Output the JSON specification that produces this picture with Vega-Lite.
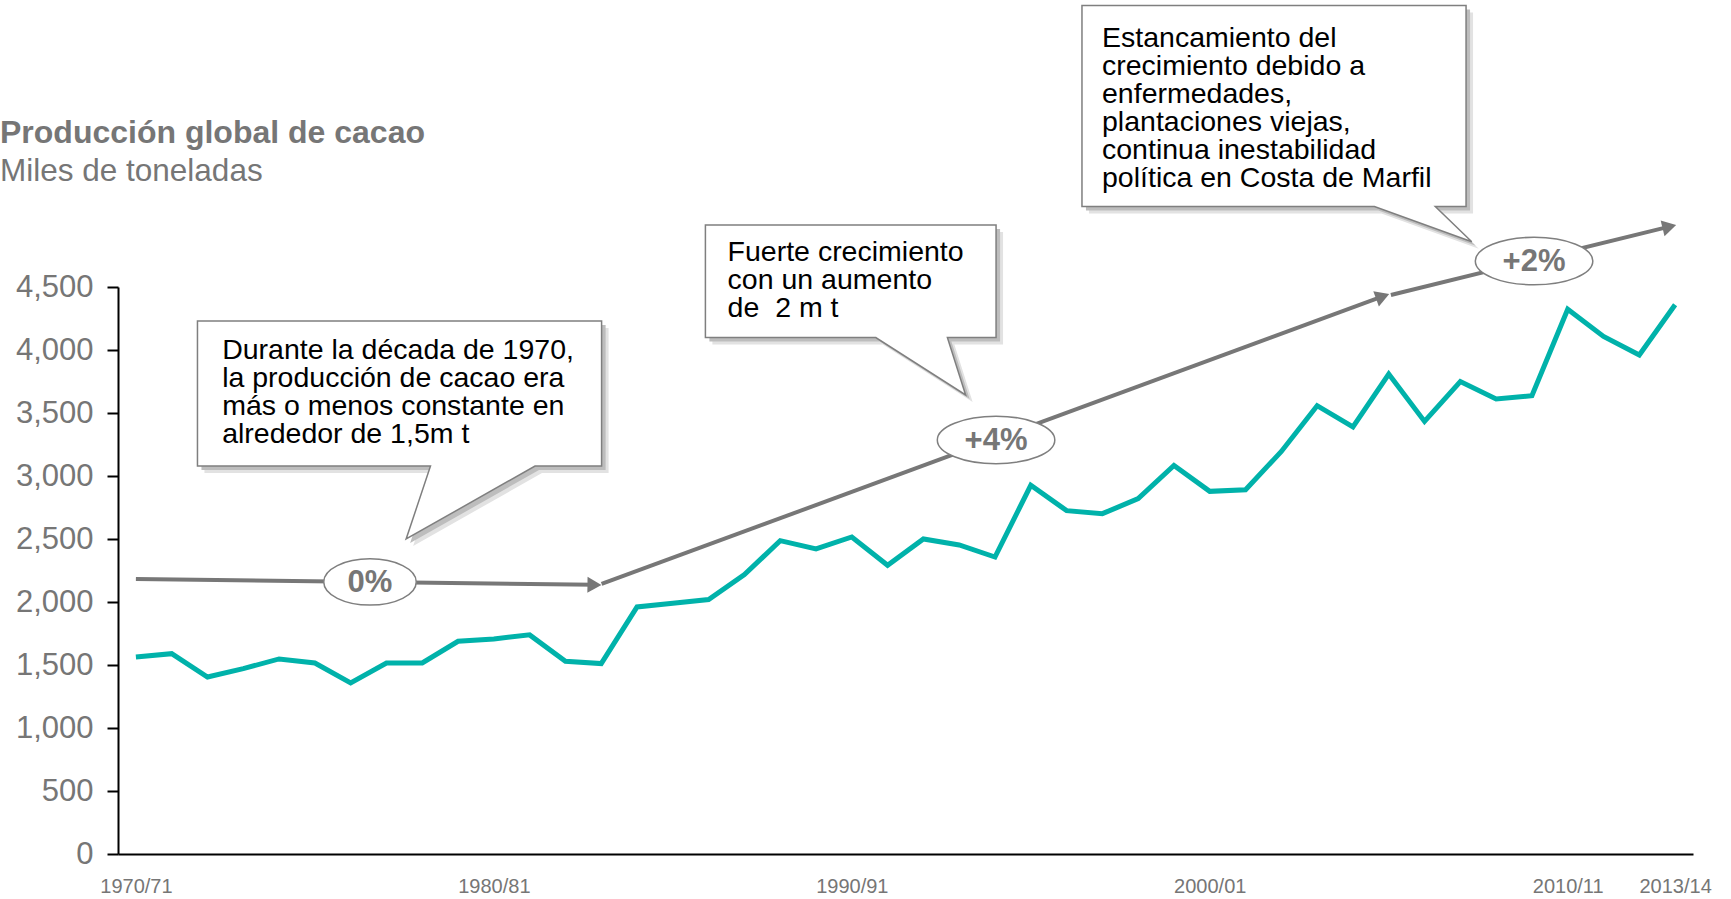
{
  "$schema": "https://vega.github.io/schema/vega-lite/v6.json",
  "width": 1575,
  "height": 567,
  "autosize": {"type": "none"},
  "padding": {"left": 118, "top": 287, "right": 38, "bottom": 45},
  "background": "white",
  "config": {"view": {"stroke": null}, "font": "Liberation Sans, Arial, sans-serif"},
  "title": {
    "text": "Producción global de cacao",
    "subtitle": "Miles de toneladas",
    "anchor": "start",
    "frame": "group",
    "dx": -118,
    "offset": -186,
    "font": "Liberation Sans, Arial, sans-serif",
    "fontSize": 32,
    "fontWeight": "bold",
    "color": "#767676",
    "subtitleFont": "Liberation Sans, Arial, sans-serif",
    "subtitleFontSize": 31.5,
    "subtitleColor": "#767676",
    "subtitlePadding": 6
  },
  "datasets": {
    "prod": [
      {"year": 1970, "season": "1970/71", "value": 1564},
      {"year": 1971, "season": "1971/72", "value": 1590},
      {"year": 1972, "season": "1972/73", "value": 1405},
      {"year": 1973, "season": "1973/74", "value": 1471},
      {"year": 1974, "season": "1974/75", "value": 1548},
      {"year": 1975, "season": "1975/76", "value": 1516},
      {"year": 1976, "season": "1976/77", "value": 1358},
      {"year": 1977, "season": "1977/78", "value": 1516},
      {"year": 1978, "season": "1978/79", "value": 1516},
      {"year": 1979, "season": "1979/80", "value": 1688},
      {"year": 1980, "season": "1980/81", "value": 1707},
      {"year": 1981, "season": "1981/82", "value": 1739},
      {"year": 1982, "season": "1982/83", "value": 1529},
      {"year": 1983, "season": "1983/84", "value": 1511},
      {"year": 1984, "season": "1984/85", "value": 1961},
      {"year": 1985, "season": "1985/86", "value": 1990},
      {"year": 1986, "season": "1986/87", "value": 2019},
      {"year": 1987, "season": "1987/88", "value": 2217},
      {"year": 1988, "season": "1988/89", "value": 2487},
      {"year": 1989, "season": "1989/90", "value": 2421},
      {"year": 1990, "season": "1990/91", "value": 2516},
      {"year": 1991, "season": "1991/92", "value": 2291},
      {"year": 1992, "season": "1992/93", "value": 2500},
      {"year": 1993, "season": "1993/94", "value": 2453},
      {"year": 1994, "season": "1994/95", "value": 2357},
      {"year": 1995, "season": "1995/96", "value": 2926},
      {"year": 1996, "season": "1996/97", "value": 2725},
      {"year": 1997, "season": "1997/98", "value": 2701},
      {"year": 1998, "season": "1998/99", "value": 2820},
      {"year": 1999, "season": "1999/00", "value": 3084},
      {"year": 2000, "season": "2000/01", "value": 2878},
      {"year": 2001, "season": "2001/02", "value": 2891},
      {"year": 2002, "season": "2002/03", "value": 3195},
      {"year": 2003, "season": "2003/04", "value": 3558},
      {"year": 2004, "season": "2004/05", "value": 3389},
      {"year": 2005, "season": "2005/06", "value": 3809},
      {"year": 2006, "season": "2006/07", "value": 3433},
      {"year": 2007, "season": "2007/08", "value": 3750},
      {"year": 2008, "season": "2008/09", "value": 3611},
      {"year": 2009, "season": "2009/10", "value": 3637},
      {"year": 2010, "season": "2010/11", "value": 4324},
      {"year": 2011, "season": "2011/12", "value": 4108},
      {"year": 2012, "season": "2012/13", "value": 3960},
      {"year": 2013, "season": "2013/14", "value": 4359}
    ],
    "trend": [
      {"seg": "a", "year": 1970, "value": 2183},
      {"seg": "a", "year": 1982.81, "value": 2136},
      {"seg": "b", "year": 1983.01, "value": 2143},
      {"seg": "b", "year": 2004.83, "value": 4425},
      {"seg": "c", "year": 2005.06, "value": 4437},
      {"seg": "c", "year": 2012.84, "value": 4979}
    ],
    "heads": [
      {"seg": "a", "year": 1982.81, "value": 2136},
      {"seg": "b", "year": 2004.83, "value": 4425},
      {"seg": "c", "year": 2012.84, "value": 4979}
    ],
    "callouts": [
      {"id": 1, "i": 0, "year": 1971.72, "value": 4230},
      {"id": 1, "i": 1, "year": 1983.01, "value": 4230},
      {"id": 1, "i": 2, "year": 1983.01, "value": 3079},
      {"id": 1, "i": 3, "year": 1981.15, "value": 3079},
      {"id": 1, "i": 4, "year": 1977.55, "value": 2500},
      {"id": 1, "i": 5, "year": 1978.23, "value": 3079},
      {"id": 1, "i": 6, "year": 1971.72, "value": 3079},
      {"id": 2, "i": 0, "year": 1985.91, "value": 4992},
      {"id": 2, "i": 1, "year": 1994.03, "value": 4992},
      {"id": 2, "i": 2, "year": 1994.03, "value": 4099},
      {"id": 2, "i": 3, "year": 1992.67, "value": 4099},
      {"id": 2, "i": 4, "year": 1993.18, "value": 3643},
      {"id": 2, "i": 5, "year": 1990.67, "value": 4099},
      {"id": 2, "i": 6, "year": 1985.91, "value": 4099},
      {"id": 3, "i": 0, "year": 1996.43, "value": 6734},
      {"id": 3, "i": 1, "year": 2007.16, "value": 6734},
      {"id": 3, "i": 2, "year": 2007.16, "value": 5139},
      {"id": 3, "i": 3, "year": 2006.3, "value": 5139},
      {"id": 3, "i": 4, "year": 2007.32, "value": 4859},
      {"id": 3, "i": 5, "year": 2004.6, "value": 5139},
      {"id": 3, "i": 6, "year": 1996.43, "value": 5139}
    ],
    "notes": [
      {"id": 1, "year": 1972.41, "value": 3930, "label": "Durante la década de 1970,\nla producción de cacao era\nmás o menos constante en\nalrededor de 1,5m t"},
      {"id": 2, "year": 1986.53, "value": 4704, "label": "Fuerte crecimiento\ncon un aumento\nde\u00a0 2 m t"},
      {"id": 3, "year": 1996.99, "value": 6401, "label": "Estancamiento del\ncrecimiento debido a\nenfermedades,\nplantaciones viejas,\ncontinua inestabilidad\npolítica en Costa de Marfil"}
    ],
    "badges": [
      {"label": "0%", "kind": "small", "year": 1976.54, "value": 2159},
      {"label": "+4%", "kind": "wide", "year": 1994.03, "value": 3286},
      {"label": "+2%", "kind": "wide", "year": 2009.06, "value": 4706}
    ]
  },
  "encoding": {
    "x": {
      "field": "year",
      "type": "quantitative",
      "scale": {"domain": [1969.5, 2013.5], "nice": false, "zero": false},
      "axis": {
        "values": [1970, 1980, 1990, 2000, 2010, 2013],
        "labelExpr": "datum.value + '/' + substring(toString(datum.value + 1), 2, 4)",
        "title": null,
        "grid": false,
        "ticks": false,
        "domainColor": "#000000",
        "domainWidth": 2,
        "labelFont": "Liberation Sans, Arial, sans-serif",
        "labelFontSize": 20,
        "labelColor": "#767676",
        "labelPadding": 22,
        "labelFlush": false,
        "labelOverlap": false
      }
    },
    "y": {
      "field": "value",
      "type": "quantitative",
      "scale": {"domain": [0, 4500], "nice": false},
      "axis": {
        "values": [0, 500, 1000, 1500, 2000, 2500, 3000, 3500, 4000, 4500],
        "format": ",.0f",
        "title": null,
        "grid": false,
        "domainColor": "#000000",
        "domainWidth": 2,
        "tickColor": "#000000",
        "tickWidth": 2,
        "tickSize": 11,
        "labelFont": "Liberation Sans, Arial, sans-serif",
        "labelFontSize": 31,
        "labelColor": "#767676",
        "labelPadding": 14
      }
    }
  },
  "layer": [
    {
      "data": {"name": "callouts"},
      "mark": {"type": "line", "interpolate": "linear-closed", "fill": "#e2e2e2", "stroke": null, "strokeWidth": 0, "xOffset": 7, "yOffset": 7},
      "encoding": {"detail": {"field": "id"}, "order": {"field": "i"}}
    },
    {
      "data": {"name": "callouts"},
      "mark": {"type": "line", "interpolate": "linear-closed", "fill": "#bdbdbd", "stroke": null, "strokeWidth": 0, "xOffset": 4, "yOffset": 4},
      "encoding": {"detail": {"field": "id"}, "order": {"field": "i"}}
    },
    {
      "data": {"name": "callouts"},
      "mark": {"type": "line", "interpolate": "linear-closed", "fill": "#ffffff", "stroke": "#7f7f7f", "strokeWidth": 1.5},
      "encoding": {"detail": {"field": "id"}, "order": {"field": "i"}}
    },
    {
      "data": {"name": "notes"},
      "mark": {"type": "text", "align": "left", "baseline": "alphabetic", "lineBreak": "\n", "lineHeight": 28, "fontSize": 28.5, "color": "#000000", "font": "Liberation Sans, Arial, sans-serif"},
      "encoding": {"text": {"field": "label"}}
    },
    {
      "data": {"name": "prod"},
      "mark": {"type": "line", "color": "#00b2aa", "strokeWidth": 5, "strokeJoin": "miter"}
    },
    {
      "data": {"name": "trend"},
      "mark": {"type": "line", "color": "#777777", "strokeWidth": 4, "strokeCap": "butt"},
      "encoding": {"detail": {"field": "seg"}}
    },
    {
      "data": {"name": "heads"},
      "transform": [{"filter": "datum.seg == 'a'"}],
      "mark": {"type": "point", "shape": "triangle-right", "filled": true, "color": "#777777", "size": 260, "angle": 0.7, "opacity": 1}
    },
    {
      "data": {"name": "heads"},
      "transform": [{"filter": "datum.seg == 'b'"}],
      "mark": {"type": "point", "shape": "triangle-right", "filled": true, "color": "#777777", "size": 260, "angle": 339.8, "opacity": 1}
    },
    {
      "data": {"name": "heads"},
      "transform": [{"filter": "datum.seg == 'c'"}],
      "mark": {"type": "point", "shape": "triangle-right", "filled": true, "color": "#777777", "size": 260, "angle": 346.2, "opacity": 1}
    },
    {
      "data": {"name": "badges"},
      "transform": [{"filter": "datum.kind == 'small'"}],
      "mark": {"type": "point", "shape": "M -1 0 C -1 -0.2761 -0.5523 -0.5 0 -0.5 C 0.5523 -0.5 1 -0.2761 1 0 C 1 0.2761 0.5523 0.5 0 0.5 C -0.5523 0.5 -1 0.2761 -1 0 Z", "size": 8556, "filled": true, "fill": "#ffffff", "stroke": "#7f7f7f", "strokeWidth": 1.5, "opacity": 1}
    },
    {
      "data": {"name": "badges"},
      "transform": [{"filter": "datum.kind == 'wide'"}],
      "mark": {"type": "point", "shape": "M -1 0 C -1 -0.2231 -0.5523 -0.404 0 -0.404 C 0.5523 -0.404 1 -0.2231 1 0 C 1 0.2231 0.5523 0.404 0 0.404 C -0.5523 0.404 -1 0.2231 -1 0 Z", "size": 13806, "filled": true, "fill": "#ffffff", "stroke": "#7f7f7f", "strokeWidth": 1.5, "opacity": 1}
    },
    {
      "data": {"name": "badges"},
      "mark": {"type": "text", "align": "center", "baseline": "middle", "fontSize": 31, "fontWeight": "bold", "color": "#767676", "font": "Liberation Sans, Arial, sans-serif", "dy": 1},
      "encoding": {"text": {"field": "label"}}
    }
  ]
}
